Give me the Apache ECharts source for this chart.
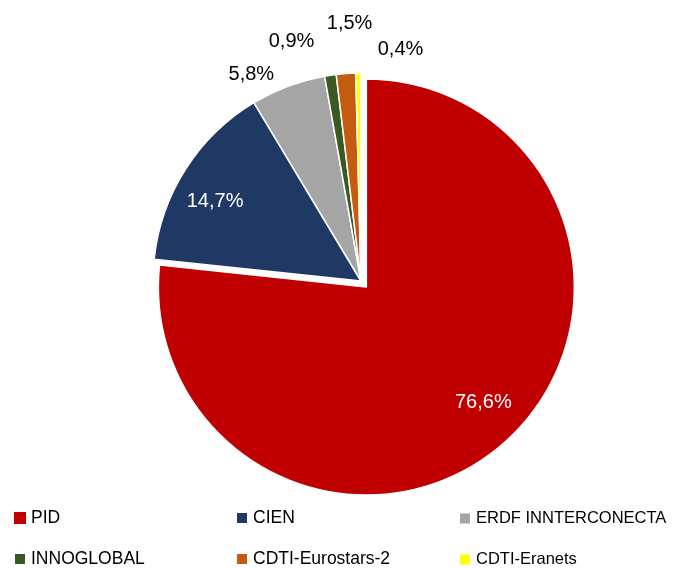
<!DOCTYPE html>
<html>
<head>
<meta charset="utf-8">
<script src="https://cdn.jsdelivr.net/npm/echarts@6/dist/echarts.min.js"></script>
<style>
  html, body { margin: 0; padding: 0; background: #fff; }
  #chart { width: 674px; height: 568px; }
</style>
</head>
<body>
<div id="chart"></div>
<script>
// 数据
const categories = ['PID', 'CIEN', 'ERDF INNTERCONECTA', 'INNOGLOBAL', 'CDTI-Eurostars-2', 'CDTI-Eranets']
const shares = [76.6, 14.7, 5.8, 0.9, 1.5, 0.4]
const colors = ['#C00000', '#1F3864', '#A5A5A5', '#3B5A23', '#C55A11', '#FFFF00']

// label placement: [angle shift in degrees, distance as fraction of radius]
const labelPlace = [[-3.4, 0.79], [-3.8, 0.80], [-7.4, 1.125], [-7.7, 1.20], [1.6, 1.24], [10.4, 1.13]]
const labelColors = ['#fff', '#fff', '#000', '#000', '#000', '#000']

const CX = 361, CY = 281, R = 208, EXPLODE = 8
const EXPLODED = 0 // PID slice pulled out
const FONT = '"Liberation Sans", Arial, sans-serif'
const NONE = 'rgba(0,0,0,0)'

const total = shares.reduce((a, b) => a + b, 0)
const midAngles = []
let acc = 0
shares.forEach(v => {
  midAngles.push((acc + v / 2) / total * 360)
  acc += v
})
const rad = d => d * Math.PI / 180
const exCX = CX + EXPLODE * Math.sin(rad(midAngles[EXPLODED]))
const exCY = CY - EXPLODE * Math.cos(rad(midAngles[EXPLODED]))

const chart = echarts.init(document.getElementById('chart'))

// series data: one series draws the exploded slice, the other the rest
const makeData = (exploded) => categories.map((name, i) => {
  const visible = (i === EXPLODED) === exploded
  return {
    name: name,
    value: shares[i],
    itemStyle: visible ? {color: colors[i], borderColor: '#fff', borderWidth: 1.5} : {color: NONE, borderWidth: 0},
    label: {show: visible, color: labelColors[i]}
  }
})

const labelLayout = (cx, cy) => function (params) {
  const i = params.dataIndex
  const a = rad(midAngles[i] + labelPlace[i][0])
  const d = labelPlace[i][1] * R
  return {
    x: cx + d * Math.sin(a),
    y: cy - d * Math.cos(a),
    align: 'center',
    verticalAlign: 'middle'
  }
}

const pieSeries = (cx, cy, exploded) => ({
  type: 'pie',
  center: [cx, cy],
  radius: R,
  startAngle: 90,
  clockwise: true,
  silent: true,
  avoidLabelOverlap: false,
  emphasis: {disabled: true},
  label: {
    position: 'outside',
    fontFamily: FONT,
    fontSize: 20,
    formatter: p => p.value.toFixed(1).replace('.', ',') + '%'
  },
  labelLine: {show: false},
  labelLayout: labelLayout(cx, cy),
  data: makeData(exploded)
})

const legendItem = (idx, left, size, top, gap) => ({
  data: idx.map(i => ({name: categories[i], itemStyle: {color: colors[i]}})),
  left: left,
  top: top,
  height: 80,
  padding: 0,
  orient: 'vertical',
  icon: 'rect',
  itemWidth: 12,
  itemHeight: 12,
  itemGap: gap,
  selectedMode: false,
  textStyle: {fontFamily: FONT, fontSize: size, color: '#000'}
})

chart.setOption({
  backgroundColor: '#fff',
  animation: false,
  color: colors,
  legend: [
    legendItem([0, 3], 13, 17.5, 509, 23),
    legendItem([1, 4], 235, 17.5, 509, 23),
    legendItem([2, 5], 458, 16.5, 510, 24)
  ],
  series: [
    pieSeries(CX, CY, false),
    pieSeries(exCX, exCY, true)
  ]
})
</script>
</body>
</html>
